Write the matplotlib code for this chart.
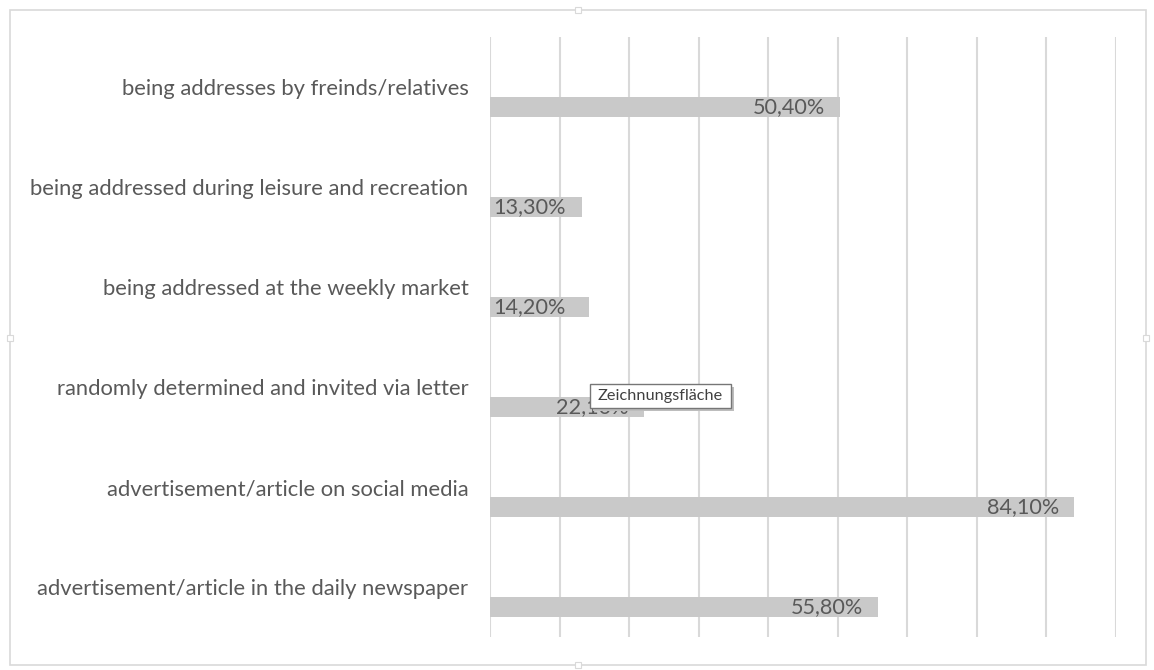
import matplotlib
matplotlib.use("Agg")
import matplotlib.pyplot as plt
from matplotlib.patches import Rectangle

categories = [
    "being addresses by freinds/relatives",
    "being addressed during leisure and recreation",
    "being addressed at the weekly market",
    "randomly determined and invited via letter",
    "advertisement/article on social media",
    "advertisement/article in the daily newspaper",
]
values = [50.4, 13.3, 14.2, 22.1, 84.1, 55.8]
value_labels = ["50,40%", "13,30%", "14,20%", "22,10%", "84,10%", "55,80%"]
x_ticks = [0, 10, 20, 30, 40, 50, 60, 70, 80, 90]

W, H = 1154, 670
fig = plt.figure(figsize=(W / 100, H / 100), dpi=100)
fig.patch.set_facecolor("white")

FONT = "Lato"
TXT = "#595959"
GRID = "#d9d9d9"

ax = fig.add_axes([490 / W, 1 - 637 / H, (1115.5 - 490) / W, 600 / H])
ax.set_xlim(0, 90)
ax.set_ylim(5.5, -0.5)
for s in ax.spines.values():
    s.set_visible(False)
ax.set_xticks(x_ticks)
ax.tick_params(axis="x", length=0, labelbottom=False)
ax.grid(axis="x", color=GRID, lw=1.5, zorder=0)
ax.set_axisbelow(True)

ys = list(range(len(categories)))
ax.set_yticks(ys)
ax.set_yticklabels(categories, fontsize=15.8, color=TXT, family=FONT)
ax.tick_params(axis="y", length=0, pad=15.5)

bar_y = [y + 0.2 for y in ys]
ax.barh(bar_y, values, height=0.2, color="#c9c9c9", zorder=2)

for y, v, lab in zip(bar_y, values, value_labels):
    if v > 16:
        ax.annotate(lab, (v, y), xytext=(-15, 0), textcoords="offset pixels",
                    ha="right", va="center", fontsize=15.6, color=TXT, family=FONT, zorder=3)
    else:
        ax.annotate(lab, (0, y), xytext=(3, 0), textcoords="offset pixels",
                    ha="left", va="center", fontsize=15.6, color=TXT, family=FONT, zorder=3)

# outer chart border
def px_rect(x0, y0, x1, y1, **kw):
    r = Rectangle((x0 / W, 1 - y1 / H), (x1 - x0) / W, (y1 - y0) / H,
                  transform=fig.transFigure, **kw)
    fig.add_artist(r)
    return r

px_rect(10, 10, 1146, 665, fill=False, edgecolor="#d9d9d9", lw=1.2)
for (cx, cy) in [(578, 10), (578, 665), (10, 338), (1146, 338)]:
    px_rect(cx - 3, cy - 3, cx + 3, cy + 3, facecolor="white", edgecolor="#d9d9d9", lw=0.8, zorder=5)

# tooltip
px_rect(593, 387, 734, 411, facecolor="#bdbdbd", edgecolor="none", zorder=10)
px_rect(590, 384, 731, 408, facecolor="white", edgecolor="#767676", lw=1.0, zorder=11)
fig.text(598 / W, 1 - 396 / H, "Zeichnungsfläche", fontsize=11.7, color="#404040",
         family=FONT, va="center", ha="left", zorder=12)

fig.savefig("out.png", dpi=100, facecolor="white")
